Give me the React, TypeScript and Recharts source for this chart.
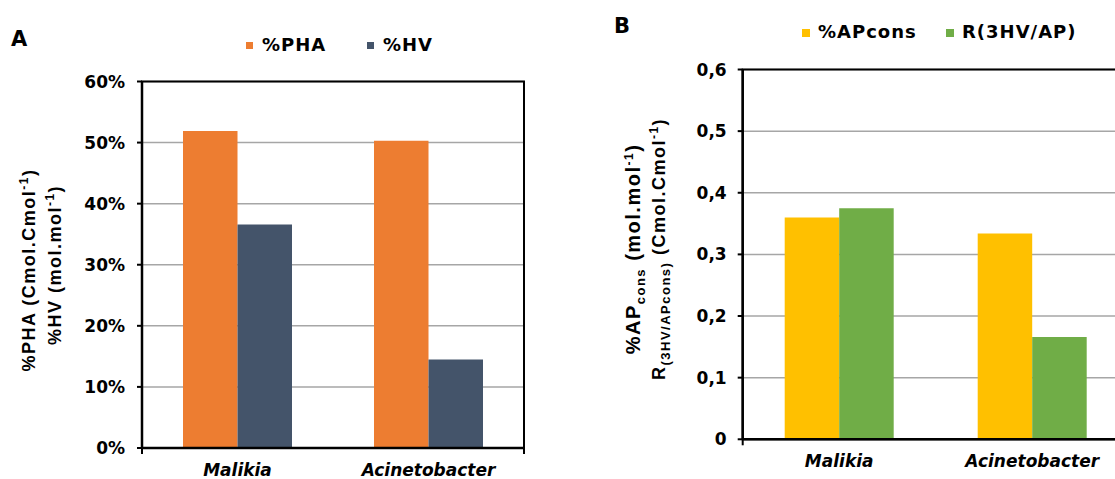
import { BarChart, Bar, XAxis, YAxis, CartesianGrid, ReferenceArea } from 'recharts';

// two strains, panel A in percent, panel B as ratios
const strains = ['Malikia', 'Acinetobacter'];
const phaPct = [51.9, 50.3];
const hvPct = [36.6, 14.5];
const apCons = [0.36, 0.334];
const ratioHvAp = [0.375, 0.166];

const pctTicks = [0, 10, 20, 30, 40, 50, 60];
const ratioTicks = [0, 0.1, 0.2, 0.3, 0.4, 0.5, 0.6];
const edgeTicks = [0, 1, 2];

const ORANGE = '#ED7D31';
const SLATE = '#44546A';
const YELLOW = '#FFC000';
const GREEN = '#70AD47';
const GRID = '#A6A6A6';
const FONT = 'DejaVu Sans';

const dataA = strains.map((name, i) => ({ name, pha: phaPct[i], hv: hvPct[i] }));
const dataB = strains.map((name, i) => ({ name, ap: apCons[i], r: ratioHvAp[i] }));

const tickStyle = { fill: '#000', fontSize: 17, fontWeight: 700, fontFamily: FONT };
const catStyle = { ...tickStyle, fontStyle: 'italic' };
const titleProps = { fill: '#000', fontSize: 18, fontWeight: 700, fontFamily: 'Liberation Sans', letterSpacing: 1.5, textAnchor: 'middle' as const };

const fmtRatio = (v: number) => (v === 0 ? '0' : v.toFixed(1).replace('.', ','));

// axes need a non-zero height to render; a tiny one keeps both on the plot's bottom edge
const THIN = 0.01;

const TitleA = () => (
  <g>
    <text x={35} y={270} transform="rotate(-90 35 270)" {...titleProps}>
      %PHA (Cmol.Cmol<tspan dy={-7} fontSize={12}>-1</tspan>
      <tspan dy={7}>)</tspan>
    </text>
    <text x={61} y={265} transform="rotate(-90 61 265)" {...titleProps}>
      %HV (mol.mol<tspan dy={-7} fontSize={12}>-1</tspan>
      <tspan dy={7}>)</tspan>
    </text>
  </g>
);

const TitleB = () => (
  <g>
    <text x={80} y={249} transform="rotate(-90 80 249)" {...titleProps} fontSize={20}>
      %AP<tspan dy={5} fontSize={13}>cons</tspan>
      <tspan dy={-5}> (mol.mol</tspan>
      <tspan dy={-7} fontSize={12}>-1</tspan>
      <tspan dy={7}>)</tspan>
    </text>
    <text x={105} y={249} transform="rotate(-90 105 249)" {...titleProps}>
      R<tspan dy={5} fontSize={13}>(3HV/APcons)</tspan>
      <tspan dy={-5}> (Cmol.Cmol</tspan>
      <tspan dy={-7} fontSize={12}>-1</tspan>
      <tspan dy={7}>)</tspan>
    </text>
  </g>
);

const LegendItem = ({ x, y, color, label, size }: { x: number; y: number; color: string; label: string; size: number }) => (
  <>
    <div style={{ position: 'absolute', left: x, top: y + 6, width: size, height: size, background: color }} />
    <div style={{ position: 'absolute', left: x + 16, top: y, fontSize: 18, lineHeight: '18px', fontWeight: 700, fontFamily: FONT, letterSpacing: 1, whiteSpace: 'nowrap' }}>
      {label}
    </div>
  </>
);

export default function App() {
  return (
    <div style={{ position: 'absolute', left: 0, top: 0, width: 1115, height: 479, overflow: 'hidden', background: '#fff' }}>
      <div style={{ position: 'absolute', left: 0, top: 0 }}>
        <BarChart width={560} height={479} data={dataA} margin={{ top: 81.5, right: 36, left: 92, bottom: 31 }} barGap={0}>
          <CartesianGrid horizontal vertical={false} stroke={GRID} strokeWidth={1.5} />
          <XAxis xAxisId="edge" type="number" domain={[0, 2]} ticks={edgeTicks} tick={<g />} axisLine={false} tickLine={{ stroke: '#000', strokeWidth: 2 }} tickSize={6} height={THIN} allowDataOverflow />
          <XAxis dataKey="name" height={THIN} tick={catStyle} tickLine={false} tickSize={6} tickMargin={10} axisLine={{ stroke: '#000', strokeWidth: 2.5 }} />
          <YAxis width={50} domain={[0, 60]} ticks={pctTicks} tickFormatter={(v: number) => `${v}%`} tick={tickStyle} tickSize={5} tickMargin={12} tickLine={{ stroke: '#000', strokeWidth: 2 }} axisLine={{ stroke: '#000', strokeWidth: 2.5 }} label={{ content: () => <TitleA /> }} />
          <Bar dataKey="pha" fill={ORANGE} barSize={54.5} isAnimationActive={false} />
          <Bar dataKey="hv" fill={SLATE} barSize={54.5} isAnimationActive={false} />
          <ReferenceArea y1={0} y2={60} fill="none" stroke="#000" strokeWidth={2} />
        </BarChart>
      </div>
      <div style={{ position: 'absolute', left: 560, top: 0 }}>
        <BarChart width={600} height={479} data={dataB} margin={{ top: 69.5, right: 31.3, left: 122.7, bottom: 39.7 }} barGap={0}>
          <CartesianGrid horizontal vertical={false} stroke={GRID} strokeWidth={1.5} />
          <XAxis xAxisId="edge" type="number" domain={[0, 2]} ticks={edgeTicks} tick={<g />} axisLine={false} tickLine={{ stroke: '#000', strokeWidth: 2 }} tickSize={6} height={THIN} allowDataOverflow />
          <XAxis dataKey="name" height={THIN} tick={catStyle} tickLine={false} tickSize={6} tickMargin={10} axisLine={{ stroke: '#000', strokeWidth: 2.5 }} />
          <YAxis width={60} domain={[0, 0.6]} ticks={ratioTicks} tickFormatter={fmtRatio} tick={tickStyle} tickSize={5} tickMargin={11} tickLine={{ stroke: '#000', strokeWidth: 2 }} axisLine={{ stroke: '#000', strokeWidth: 2.5 }} label={{ content: () => <TitleB /> }} />
          <Bar dataKey="ap" fill={YELLOW} barSize={54.5} isAnimationActive={false} />
          <Bar dataKey="r" fill={GREEN} barSize={54.5} isAnimationActive={false} />
          <ReferenceArea y1={0} y2={0.6} fill="none" stroke="#000" strokeWidth={2} />
        </BarChart>
      </div>
      <div style={{ position: 'absolute', left: 11, top: 29, fontSize: 21, lineHeight: '21px', fontWeight: 700, fontFamily: FONT }}>A</div>
      <div style={{ position: 'absolute', left: 614, top: 16, fontSize: 21, lineHeight: '21px', fontWeight: 700, fontFamily: FONT }}>B</div>
      <LegendItem x={246} y={36} color={ORANGE} label="%PHA" size={7} />
      <LegendItem x={367} y={36} color={SLATE} label="%HV" size={7} />
      <LegendItem x={802} y={23} color={YELLOW} label="%APcons" size={8} />
      <LegendItem x={946} y={23} color={GREEN} label="R(3HV/AP)" size={8} />
    </div>
  );
}
